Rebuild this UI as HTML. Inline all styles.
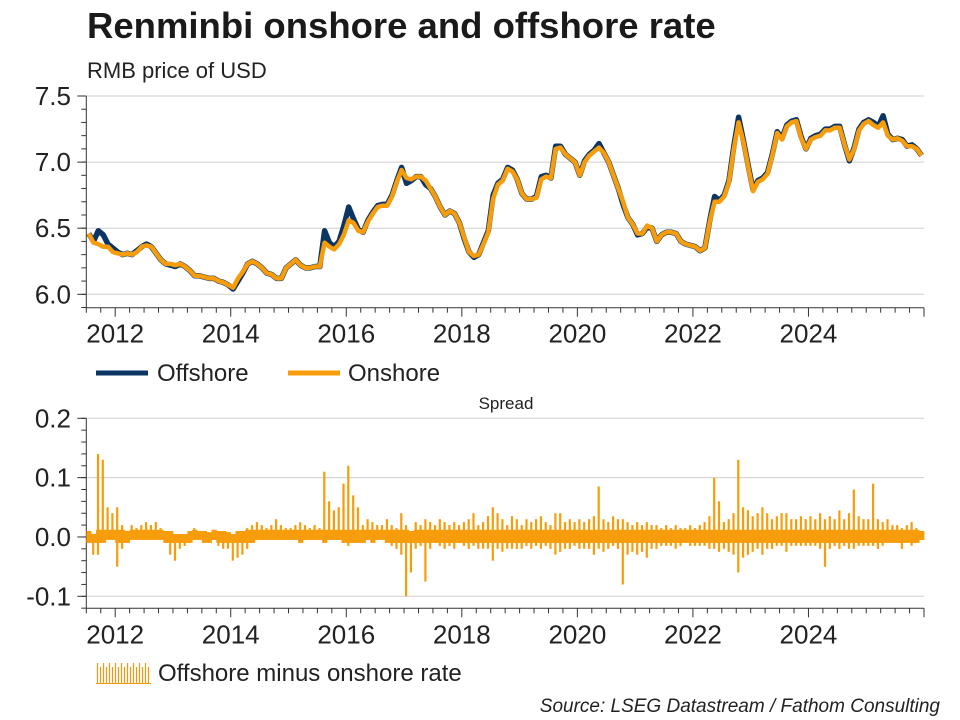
<!DOCTYPE html>
<html><head><meta charset="utf-8">
<style>
body{margin:0;background:#fff;}
svg{display:block;font-family:"Liberation Sans",Arial,sans-serif;}
</style></head>
<body>
<svg id="c" width="960" height="720" viewBox="0 0 960 720">
<text x="87" y="38" font-size="36.5" font-weight="bold" fill="#1a1a1a">Renminbi onshore and offshore rate</text>
<text x="87" y="78" font-size="22" fill="#222">RMB price of USD</text>
<text x="506" y="409" font-size="17" fill="#222" text-anchor="middle">Spread</text>
<g>
<line x1="96" y1="373" x2="148" y2="373" stroke="#0b3563" stroke-width="5"/>
<text x="157" y="381" font-size="24" fill="#222">Offshore</text>
<line x1="288" y1="373" x2="340" y2="373" stroke="#f79d0c" stroke-width="5"/>
<text x="348" y="381" font-size="24" fill="#222">Onshore</text>
</g>
<g>
<g id="legsw"></g>
<text x="158" y="681" font-size="24" fill="#222">Offshore minus onshore rate</text>
</g>
<text x="940" y="712" font-size="19" font-style="italic" fill="#222" text-anchor="end">Source: LSEG Datastream / Fathom Consulting</text>
</svg>
<script>
const startYear = 2011.5;
const yearTicks = [2012,2014,2016,2018,2020,2022,2024];
const rateTicks = [6.0,6.5,7.0,7.5];
const spreadTicks = [-0.1,0.0,0.1,0.2];
const spreadTickLabels = ["-0.1","0.0","0.1","0.2"];
const onshore = [6.46,6.39,6.38,6.36,6.36,6.32,
6.31,6.30,6.31,6.30,6.32,6.36,6.37,6.36,6.31,6.26,6.23,6.23,
6.22,6.23,6.21,6.18,6.14,6.14,6.13,6.12,6.12,6.10,6.09,6.07,
6.05,6.12,6.17,6.23,6.25,6.23,6.20,6.16,6.15,6.12,6.12,6.20,
6.23,6.26,6.22,6.20,6.20,6.21,6.21,6.39,6.36,6.34,6.38,6.45,
6.56,6.54,6.48,6.47,6.55,6.61,6.66,6.67,6.67,6.74,6.85,6.94,
6.88,6.87,6.89,6.89,6.86,6.80,6.74,6.66,6.60,6.63,6.61,6.54,
6.43,6.32,6.29,6.30,6.38,6.47,6.72,6.83,6.86,6.95,6.93,6.87,
6.76,6.72,6.72,6.73,6.87,6.89,6.88,7.10,7.11,7.06,7.03,7.00,
6.90,7.00,7.05,7.08,7.11,7.07,7.00,6.90,6.80,6.70,6.58,6.53,
6.46,6.46,6.52,6.50,6.40,6.45,6.47,6.47,6.46,6.40,6.38,6.37,
6.36,6.33,6.35,6.55,6.70,6.70,6.74,6.85,7.10,7.30,7.15,6.96,
6.78,6.85,6.87,6.91,7.05,7.22,7.17,7.27,7.30,7.31,7.18,7.10,
7.17,7.19,7.20,7.24,7.24,7.26,7.26,7.13,7.02,7.10,7.24,7.29,
7.31,7.28,7.26,7.30,7.20,7.17,7.18,7.16,7.12,7.12,7.10,7.05];
const offshore = [6.46,6.40,6.48,6.45,6.38,6.35,
6.32,6.30,6.31,6.30,6.33,6.36,6.38,6.36,6.31,6.26,6.23,6.22,
6.21,6.23,6.21,6.18,6.14,6.14,6.13,6.12,6.12,6.10,6.09,6.07,
6.04,6.10,6.16,6.23,6.25,6.23,6.20,6.16,6.15,6.12,6.12,6.20,
6.23,6.26,6.22,6.20,6.20,6.21,6.21,6.48,6.39,6.36,6.40,6.52,
6.66,6.57,6.49,6.47,6.56,6.62,6.67,6.68,6.68,6.75,6.86,6.96,
6.84,6.86,6.89,6.89,6.83,6.80,6.74,6.66,6.60,6.63,6.61,6.54,
6.42,6.32,6.28,6.30,6.39,6.48,6.75,6.84,6.87,6.96,6.94,6.87,
6.76,6.72,6.72,6.74,6.89,6.90,6.88,7.12,7.12,7.06,7.03,7.00,
6.90,7.01,7.06,7.09,7.14,7.07,7.00,6.90,6.80,6.68,6.58,6.53,
6.45,6.46,6.51,6.50,6.40,6.45,6.47,6.47,6.46,6.40,6.38,6.37,
6.36,6.33,6.35,6.56,6.74,6.71,6.75,6.86,7.12,7.34,7.16,6.97,
6.79,6.86,6.88,6.92,7.06,7.23,7.18,7.28,7.31,7.32,7.19,7.10,
7.18,7.20,7.21,7.25,7.25,7.27,7.27,7.13,7.01,7.11,7.25,7.30,
7.32,7.30,7.27,7.35,7.21,7.17,7.18,7.17,7.12,7.13,7.10,7.05];
const spreadHigh = [.01,.005,.14,.13,.05,.04,
.05,.02,.01,.02,.015,.02,.025,.02,.025,.015,.01,.01,
.005,.005,.005,.01,.015,.01,.01,.008,.012,.01,.01,.008,
.005,.01,.01,.015,.02,.025,.02,.015,.02,.03,.02,.015,
.015,.02,.025,.02,.015,.02,.015,.11,.06,.045,.05,.09,
.12,.07,.05,.02,.03,.025,.02,.02,.03,.02,.015,.04,
.02,.01,.025,.02,.03,.025,.02,.03,.025,.02,.025,.02,
.025,.03,.04,.02,.025,.035,.05,.04,.03,.02,.035,.03,
.02,.03,.025,.03,.035,.025,.02,.04,.04,.025,.03,.025,
.03,.025,.03,.035,.085,.03,.025,.035,.03,.03,.025,.02,
.025,.02,.025,.02,.02,.015,.02,.015,.02,.015,.015,.02,
.015,.02,.025,.035,.1,.06,.025,.03,.04,.13,.05,.045,
.035,.04,.05,.04,.03,.035,.04,.04,.03,.03,.035,.03,
.035,.03,.04,.03,.035,.03,.045,.03,.04,.08,.035,.03,
.03,.09,.03,.025,.03,.02,.02,.015,.02,.025,.015,.01];
const spreadLow = [-.01,-.03,-.03,-.01,-.005,-.005,
-.05,-.02,-.01,-.005,-.005,-.005,-.005,-.005,-.005,-.005,-.01,-.03,
-.04,-.02,-.015,-.01,-.005,-.005,-.01,-.01,-.005,-.015,-.02,-.02,
-.04,-.035,-.03,-.02,-.01,-.005,-.005,-.005,-.005,-.005,-.005,-.005,
-.005,-.005,-.01,-.005,-.005,-.005,-.005,-.01,-.005,-.005,-.005,-.01,
-.015,-.01,-.01,-.01,-.005,-.01,-.005,-.005,-.01,-.015,-.02,-.03,
-.1,-.06,-.02,-.015,-.075,-.02,-.01,-.015,-.02,-.015,-.02,-.01,
-.015,-.02,-.015,-.02,-.02,-.02,-.04,-.02,-.025,-.02,-.02,-.02,
-.02,-.015,-.02,-.015,-.02,-.015,-.02,-.03,-.025,-.02,-.02,-.015,
-.02,-.02,-.02,-.03,-.02,-.025,-.02,-.015,-.02,-.08,-.03,-.025,
-.03,-.025,-.035,-.02,-.02,-.015,-.015,-.015,-.02,-.015,-.01,-.015,
-.015,-.015,-.015,-.02,-.02,-.025,-.02,-.025,-.03,-.06,-.035,-.03,
-.025,-.02,-.03,-.02,-.02,-.015,-.015,-.025,-.015,-.015,-.015,-.015,
-.015,-.015,-.02,-.05,-.02,-.015,-.02,-.015,-.02,-.02,-.015,-.015,
-.015,-.015,-.02,-.015,-.01,-.01,-.01,-.02,-.01,-.015,-.01,-.005];

const NS="http://www.w3.org/2000/svg";
const svg=document.getElementById('c');
const X0=86.3, X1=924, T0=2011.5, T1=2026.0;
const xs=t=>X0+(t-T0)/(T1-T0)*(X1-X0);
const yTop=v=>96+(7.5-v)/1.5*198.3;
const yBot=v=>418.3+(0.2-v)/0.3*178;
function mk(tag,attrs,parent){const e=document.createElementNS(NS,tag);for(const k in attrs)e.setAttribute(k,attrs[k]);(parent||svg).appendChild(e);return e;}

function axes(yf,ticks,labels,minorStep,vmin,vmax,axisY,name){
  const g=mk('g',{});
  
  
  ticks.forEach((v,i)=>{
    const y=yf(v);
    const gl=mk('line',{x1:X0,x2:X1,y1:y,y2:y,stroke:'#cfcfcf','stroke-width':1},g);
    
    
    const tl=mk('text',{x:71,y:y+9,'font-size':26,'text-anchor':'end',fill:'#222'},g);
    tl.textContent=labels?labels[i]:v.toFixed(1);
    
    
  });
  for(let v=vmin;v<=vmax+1e-9;v+=minorStep){
    const y=yf(v);
    mk('line',{x1:X0-5,x2:X0,y1:y,y2:y,stroke:'#333','stroke-width':1},g);
  }
  ticks.forEach(v=>{const y=yf(v);mk('line',{x1:X0-9,x2:X0,y1:y,y2:y,stroke:'#333','stroke-width':1},g);});
  mk('line',{x1:X0,x2:X0,y1:yf(vmax),y2:axisY,stroke:'#333','stroke-width':1},g);
  mk('line',{x1:X0,x2:X1,y1:axisY,y2:axisY,stroke:'#333','stroke-width':1},g);
  for(let q=Math.ceil(T0*4);q<=T1*4;q++){
    const t=q/4,x=xs(t);
    const major=(q%8===0);
    mk('line',{x1:x,x2:x,y1:axisY,y2:axisY+(major?9:5),stroke:'#333','stroke-width':1},g);
  }
  yearTicks.forEach(yr=>{
    const xl=mk('text',{x:xs(yr),y:axisY+35,'font-size':26,'text-anchor':'middle',fill:'#222'},g);
    xl.textContent=yr;
    
    
  });
}
axes(yTop,rateTicks,null,0.1,5.9,7.5,307.7,'rate');
axes(yBot,spreadTicks,spreadTickLabels,0.02,-0.12,0.2,608.3,'spread');

function tt(i){return startYear+i/12+1/24;}
function path(arr,yf){return arr.map((v,i)=>(i?'L':'M')+xs(tt(i)).toFixed(1)+','+yf(v).toFixed(1)).join(' ');}
const off=mk('path',{d:path(offshore,yTop),fill:'none',stroke:'#0b3563','stroke-width':5.5,'stroke-linejoin':'round'});


const on=mk('path',{d:path(onshore,yTop),fill:'none',stroke:'#f79d0c','stroke-width':4.5,'stroke-linejoin':'round'});



const sg=mk('g',{});


const w=(X1-X0)/((T1-T0)*12);
spreadHigh.forEach((h,i)=>{
  const lo=spreadLow[i];
  const x=xs(startYear+i/12);
  const r=mk('rect',{x:(x+w*0.2).toFixed(1),y:yBot(h).toFixed(1),width:(w*0.45).toFixed(1),height:(yBot(lo)-yBot(h)).toFixed(1),fill:'#f79d0c'},sg);
  
  
  const core=Math.min(h,0.012), cl=Math.max(lo,-0.01);
  const r2=mk('rect',{x:x.toFixed(1),y:yBot(core).toFixed(1),width:(w+0.4).toFixed(1),height:(yBot(cl)-yBot(core)).toFixed(1),fill:'#f79d0c'},sg);
  
  
});
const lg=document.getElementById('legsw');
for(let k=0;k<18;k++){
  const x=97.5+k*3;
  mk('line',{x1:x,x2:x,y1:(k%2?667:663),y2:684,stroke:'#f09a10','stroke-width':1.2},lg);
}
mk('line',{x1:96,x2:151,y1:683.5,y2:683.5,stroke:'#f09a10','stroke-width':1},lg);
</script>
</body></html>
